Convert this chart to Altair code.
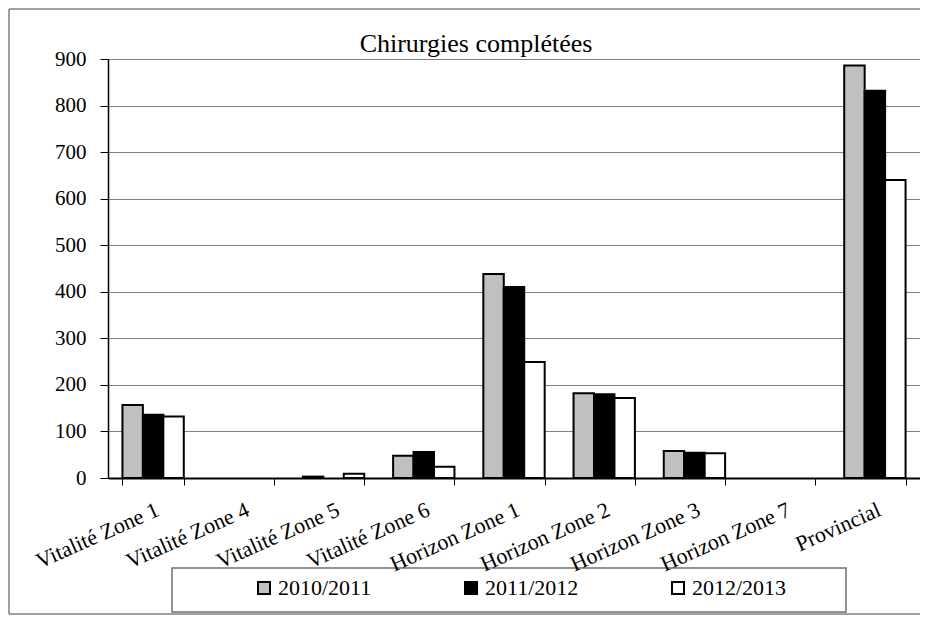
import altair as alt
import pandas as pd

categories = ["Vitalité Zone 1", "Vitalité Zone 4", "Vitalité Zone 5", "Vitalité Zone 6",
              "Horizon Zone 1", "Horizon Zone 2", "Horizon Zone 3", "Horizon Zone 7", "Provincial"]
years = ["2010/2011", "2011/2012", "2012/2013"]
v2010 = [157, 0, 3, 48, 438, 182, 58, 0, 886]
v2011 = [136, 0, 0, 56, 410, 180, 54, 0, 832]
v2012 = [132, 0, 9, 24, 249, 172, 53, 0, 640]
colors = ["#C0C0C0", "#000000", "#FFFFFF"]
y_ticks = [0, 100, 200, 300, 400, 500, 600, 700, 800, 900]
title_text = "Chirurgies complétées"

rows = []
for yr, vals in zip(years, [v2010, v2011, v2012]):
    for c, v in zip(categories, vals):
        rows.append({"Zone": c, "Year": yr, "Value": v})
df = pd.DataFrame(rows)

FONT = "'Liberation Serif', 'DejaVu Serif', serif"
W, H = 812, 419

bars = alt.Chart(df).mark_bar(stroke="black", strokeWidth=2).encode(
    x=alt.X("Zone:N", sort=categories,
            scale=alt.Scale(paddingInner=0.32, paddingOuter=0.16),
            axis=alt.Axis(title=None, labelAngle=336, labelAlign="right", labelBaseline="top",
                          tickBand="extent", tickSize=7, tickColor="black", tickWidth=1,
                          domainColor="black", domainWidth=2, labelPadding=14,
                          labelFont=FONT, labelFontSize=22, labelColor="black",
                          grid=False, labelOverlap=False, labelLimit=300, zindex=1)),
    xOffset=alt.XOffset("Year:N", sort=years, scale=alt.Scale(paddingInner=0, paddingOuter=0)),
    y=alt.Y("Value:Q", scale=alt.Scale(domain=[0, 900], nice=False),
            axis=alt.Axis(title=None, values=y_ticks, tickSize=8, tickColor="black",
                          domainColor="black", domainWidth=1.5, labelPadding=14,
                          labelFont=FONT, labelFontSize=21, labelColor="black",
                          grid=True, gridColor="#808080", gridWidth=1)),
    color=alt.Color("Year:N", sort=years,
                    scale=alt.Scale(domain=years, range=colors),
                    legend=alt.Legend(title=None, orient="none", direction="horizontal",
                                      legendX=145, legendY=518, columnPadding=88,
                                      symbolType="square", symbolSize=144,
                                      symbolStrokeColor="black", symbolStrokeWidth=2,
                                      labelFont=FONT, labelFontSize=22, labelColor="black",
                                      labelOffset=3, padding=0)),
    strokeOpacity=alt.condition("datum.Value == 0", alt.value(0), alt.value(1)),
)

one = pd.DataFrame({"a": [0]})
legend_box = alt.Chart(one).mark_rect(fill="white", fillOpacity=0, stroke="#707070", strokeWidth=1.5).encode(
    x=alt.value(64), x2=alt.value(738), y=alt.value(509), y2=alt.value(553))

title = alt.Chart(one).mark_text(font=FONT, fontSize=26, color="black", align="center",
                                 baseline="alphabetic").encode(
    x=alt.value(368), y=alt.value(-7), text=alt.value(title_text))

frame_left = alt.Chart(one).mark_rule(color="#404040", strokeWidth=1).encode(
    x=alt.value(-99), y=alt.value(-50), y2=alt.value(555))
frame_top = alt.Chart(one).mark_rule(color="#404040", strokeWidth=1).encode(
    x=alt.value(-99), x2=alt.value(812), y=alt.value(-50))
frame_bottom = alt.Chart(one).mark_rule(color="#404040", strokeWidth=1).encode(
    x=alt.value(-99), x2=alt.value(812), y=alt.value(555))

chart = alt.layer(legend_box, bars, title, frame_left, frame_top, frame_bottom).properties(
    width=W, height=H,
    autosize=alt.AutoSizeParams(type="none"),
    padding={"left": 100, "top": 51, "right": 0, "bottom": 137},
).configure_view(stroke="#808080", strokeWidth=2).configure(background="white")

chart.save("out.html", embed_options={"renderer": "svg", "actions": False})
